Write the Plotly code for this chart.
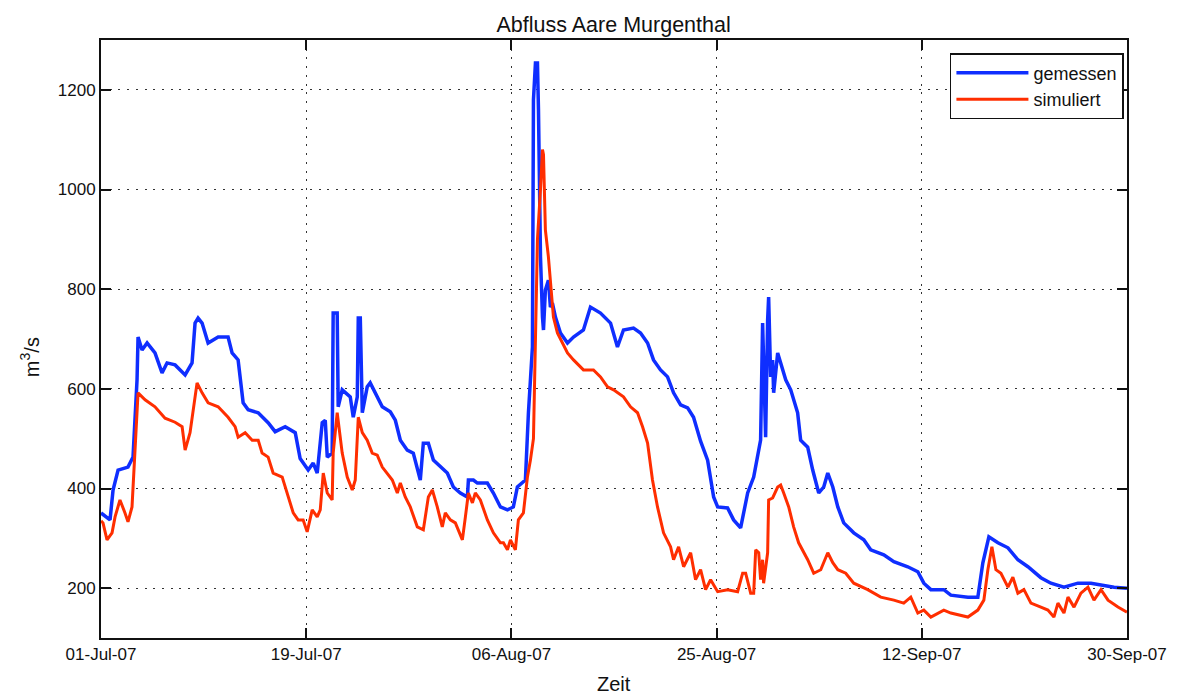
import numpy as np
import pandas as pd
import plotly.graph_objects as go

# Discharge of the Aare at Murgenthal, July - September 2007
START = pd.Timestamp("2007-07-01 00:00")
END_DAYS = 91.96  # last sample: 30-Sep-07 23:00

# measured discharge (days since start, m3/s)
gem_days = [0.0, 0.81, 1.08, 1.53, 2.42, 2.87, 3.23, 3.32, 3.68, 4.13, 4.84, 5.47, 5.92,
            6.64, 7.54, 8.16, 8.43, 8.7, 9.06, 9.3, 9.60, 10.50, 11.39, 11.75, 12.29, 12.74,
            13.19, 14.09, 14.98, 15.61, 16.51, 17.41, 17.85, 18.57, 19.02, 19.38, 19.83,
            20.10, 20.28, 20.72, 20.81, 21.17, 21.26, 21.62, 22.34, 22.61, 22.97, 23.06,
            23.24, 23.42, 23.86, 24.13, 24.76, 25.21, 25.93, 26.38, 26.83, 27.45, 27.99,
            28.62, 28.89, 29.34, 29.79, 30.41, 31.04, 31.58, 32.21, 32.84, 32.93, 33.38,
            33.73, 34.63, 35.17, 35.80, 36.43, 36.96, 37.32, 38.04, 38.31, 38.67, 38.76,
            38.94, 39.12, 39.21, 39.39, 39.57, 39.66, 39.83, 40.10, 40.28, 40.46, 40.73,
            41.18, 41.81, 42.35, 43.24, 43.87, 44.77, 45.67, 46.29, 46.83, 47.73, 48.36,
            48.99, 49.52, 50.15, 50.78, 51.32, 51.95, 52.58, 53.11, 53.74, 54.37, 54.91,
            55.27, 56.16, 56.70, 57.33, 57.96, 58.50, 58.86, 59.12, 59.30, 59.57, 59.75,
            59.84, 60.02, 60.20, 60.29, 60.65, 60.92, 61.37, 61.82, 62.44, 62.71, 63.34,
            63.79, 64.33, 64.78, 65.14, 65.59, 66.04, 66.57, 67.47, 68.37, 68.99, 70.16,
            71.06, 72.31, 73.21, 73.75, 74.38, 75.54, 76.17, 77.70, 78.59, 79.04, 79.58,
            80.39, 81.29, 82.18, 83.08, 84.24, 85.14, 86.31, 87.56, 88.73, 89.90, 90.80,
            91.96]
gem_vals = [351, 337, 397, 437, 443, 463, 618, 704, 678, 692, 672, 632, 652,
            648, 628, 652, 732, 742, 732, 712, 692, 704, 704, 672, 658, 572,
            558, 552, 532, 514, 524, 512, 460, 437, 451, 431, 532,
            537, 463, 471, 752, 752, 564, 598, 584, 543, 584, 742,
            742, 552, 604, 612, 584, 564, 554, 537, 497, 477, 471,
            417, 491, 491, 457, 443, 431, 403, 391, 383, 417, 417,
            411, 411, 391, 363, 357, 363, 403, 417, 552, 684, 1180,
            1254, 1254, 1160, 865, 744, 718, 798, 818, 764, 772, 744,
            712, 692, 704, 718, 764, 752, 732, 684, 718, 722, 712,
            692, 658, 638, 624, 592, 568, 562, 543, 495, 457, 383,
            363, 361, 337, 321, 391, 423, 471, 497, 732, 503, 738,
            784, 624, 658, 592, 672, 652, 618, 598, 552, 497, 483,
            437, 391, 403, 431, 403, 363, 331, 311, 297, 277, 267,
            253, 243, 233, 210, 197, 197, 186, 182, 182, 251, 303,
            291, 281, 257, 243, 221, 210, 202, 210, 210, 206, 202,
            200]

# simulated discharge (days since start, m3/s)
sim_days = [0.0, 0.18, 0.54, 0.99, 1.26, 1.70, 2.15, 2.42, 2.78, 2.96, 3.23, 3.32, 3.95,
            4.84, 5.74, 6.64, 7.27, 7.54, 7.98, 8.25, 8.61, 9.06, 9.60, 10.50, 11.39,
            12.02, 12.29, 12.92, 13.55, 14.09, 14.44, 14.98, 15.43, 16.24, 16.69, 17.23,
            17.67, 18.12, 18.48, 18.93, 19.38, 19.65, 19.92, 20.28, 20.72, 20.81, 21.17,
            21.62, 22.07, 22.52, 22.79, 23.06, 23.42, 23.86, 24.31, 24.76, 25.21, 25.66,
            26.11, 26.56, 26.83, 27.27, 27.72, 28.35, 28.89, 29.34, 29.70, 30.14, 30.59,
            30.86, 31.31, 31.76, 32.39, 32.66, 32.93, 33.29, 33.55, 34.00, 34.63, 35.17,
            35.80, 36.07, 36.43, 36.70, 37.14, 37.41, 37.86, 38.22, 38.49, 38.76, 39.12,
            39.39, 39.57, 39.66, 39.83, 40.10, 40.28, 40.55, 40.91, 41.36, 41.81, 42.35,
            43.24, 44.14, 44.77, 45.40, 45.94, 46.83, 47.46, 48.09, 48.54, 48.99, 49.43,
            49.88, 50.42, 51.05, 51.32, 51.77, 52.22, 52.85, 53.29, 53.74, 54.19, 54.64,
            55.27, 56.16, 57.06, 57.51, 57.78, 58.23, 58.50, 58.68, 58.95, 59.12, 59.30,
            59.39, 59.75, 59.84, 60.20, 60.65, 60.92, 61.19, 61.64, 62.08, 62.53, 63.34,
            63.88, 64.51, 65.14, 65.59, 66.04, 66.75, 67.47, 68.72, 69.89, 71.06, 71.95,
            72.58, 73.21, 73.75, 74.38, 75.54, 76.17, 77.70, 78.59, 79.13, 79.49, 79.85,
            80.21, 80.66, 81.29, 81.73, 82.18, 82.72, 83.35, 84.24, 84.87, 85.41, 85.77,
            86.31, 86.67, 87.21, 87.83, 88.46, 89.00, 89.63, 90.26, 91.15, 91.96]
sim_vals = [335, 331, 297, 311, 343, 377, 351, 333, 363, 443, 578, 592, 578,
            564, 541, 533, 524, 477, 512, 552, 612, 592, 572, 564, 543,
            524, 503, 512, 497, 497, 471, 463, 431, 423, 391, 351,
            337, 337, 313, 357, 343, 357, 431, 391, 377, 471, 552,
            471, 423, 397, 417, 543, 512, 497, 471, 467, 443, 431,
            417, 391, 411, 383, 363, 323, 317, 383, 397, 363, 323,
            351, 337, 331, 297, 343, 391, 371, 391, 377, 337, 311,
            291, 291, 277, 297, 277, 337, 351, 423, 457, 500, 900,
            1000, 1080, 1070, 919, 865, 812, 744, 712, 692, 672, 658,
            638, 638, 624, 604, 598, 584, 564, 552, 524, 491, 417,
            363, 311, 283, 257, 283, 243, 271, 217, 237, 197, 217,
            193, 197, 193, 230, 230, 190, 190, 277, 271, 217, 257,
            210, 271, 377, 381, 403, 407, 391, 363, 323, 291, 257,
            230, 237, 271, 251, 237, 230, 210, 197, 182, 176, 170,
            182, 150, 156, 142, 156, 150, 142, 156, 176, 237, 283,
            237, 230, 202, 222, 190, 197, 170, 162, 156, 142, 170,
            150, 182, 162, 190, 202, 176, 197, 176, 162, 152]

tick_labels = ["01-Jul-07", "19-Jul-07", "06-Aug-07", "25-Aug-07", "12-Sep-07", "30-Sep-07"]
y_ticks = [200, 400, 600, 800, 1000, 1200]


def to_time(days):
    return START + pd.to_timedelta(np.asarray(days, dtype=float), unit="D")


tick_pos = to_time(np.linspace(0, END_DAYS, len(tick_labels)))

fig = go.Figure()
fig.add_trace(go.Scatter(x=to_time(gem_days), y=gem_vals, mode="lines", name="gemessen",
                         line=dict(color="#0f2eff", width=3.5)))
fig.add_trace(go.Scatter(x=to_time(sim_days), y=sim_vals, mode="lines", name="simuliert",
                         line=dict(color="#ff2e00", width=3)))

font_main = "Liberation Sans, Arial, Helvetica, sans-serif"
axis_common = dict(
    showline=True, linecolor="#111", linewidth=2, mirror="ticks",
    ticks="inside", ticklen=10, tickwidth=1.5, tickcolor="#111",
    showgrid=True, gridcolor="#333", gridwidth=1, griddash="2px,6.7px",
    zeroline=False, automargin=False,
    tickfont=dict(family=font_main, size=17, color="#111"),
)

fig.update_xaxes(
    type="date", range=[to_time([0])[0], to_time([END_DAYS])[0]],
    tickmode="array", tickvals=tick_pos, ticktext=tick_labels,
    **axis_common,
)
fig.update_yaxes(
    range=[100, 1300], tickmode="array", tickvals=y_ticks,
    ticktext=[str(v) for v in y_ticks],
    **axis_common,
)

# axis titles
title_font = dict(family=font_main, size=20, color="#111")
fig.add_annotation(text="Zeit", xref="paper", yref="paper", x=0.5, y=-0.077,
                   xanchor="center", yanchor="middle", showarrow=False, font=title_font)
fig.add_annotation(text="m<sup>3</sup>/s", xref="paper", yref="paper", x=-0.069, y=0.47,
                   xanchor="center", yanchor="middle", showarrow=False, textangle=-90,
                   font=title_font)

fig.update_layout(
    width=1180, height=695,
    margin=dict(l=101, r=53, t=40, b=57),
    paper_bgcolor="white", plot_bgcolor="white",
    title=dict(text="Abfluss Aare Murgenthal", x=0.52, xanchor="center", y=0.975, yanchor="top",
               font=dict(family=font_main, size=21.5, color="#111")),
    legend=dict(x=0.997, xanchor="right", y=0.978, yanchor="top",
                bgcolor="white", bordercolor="#111", borderwidth=1.5,
                font=dict(family=font_main, size=18, color="#111"),
                itemwidth=72, tracegroupgap=0),
    showlegend=True,
)

fig.write_html("out.html")
